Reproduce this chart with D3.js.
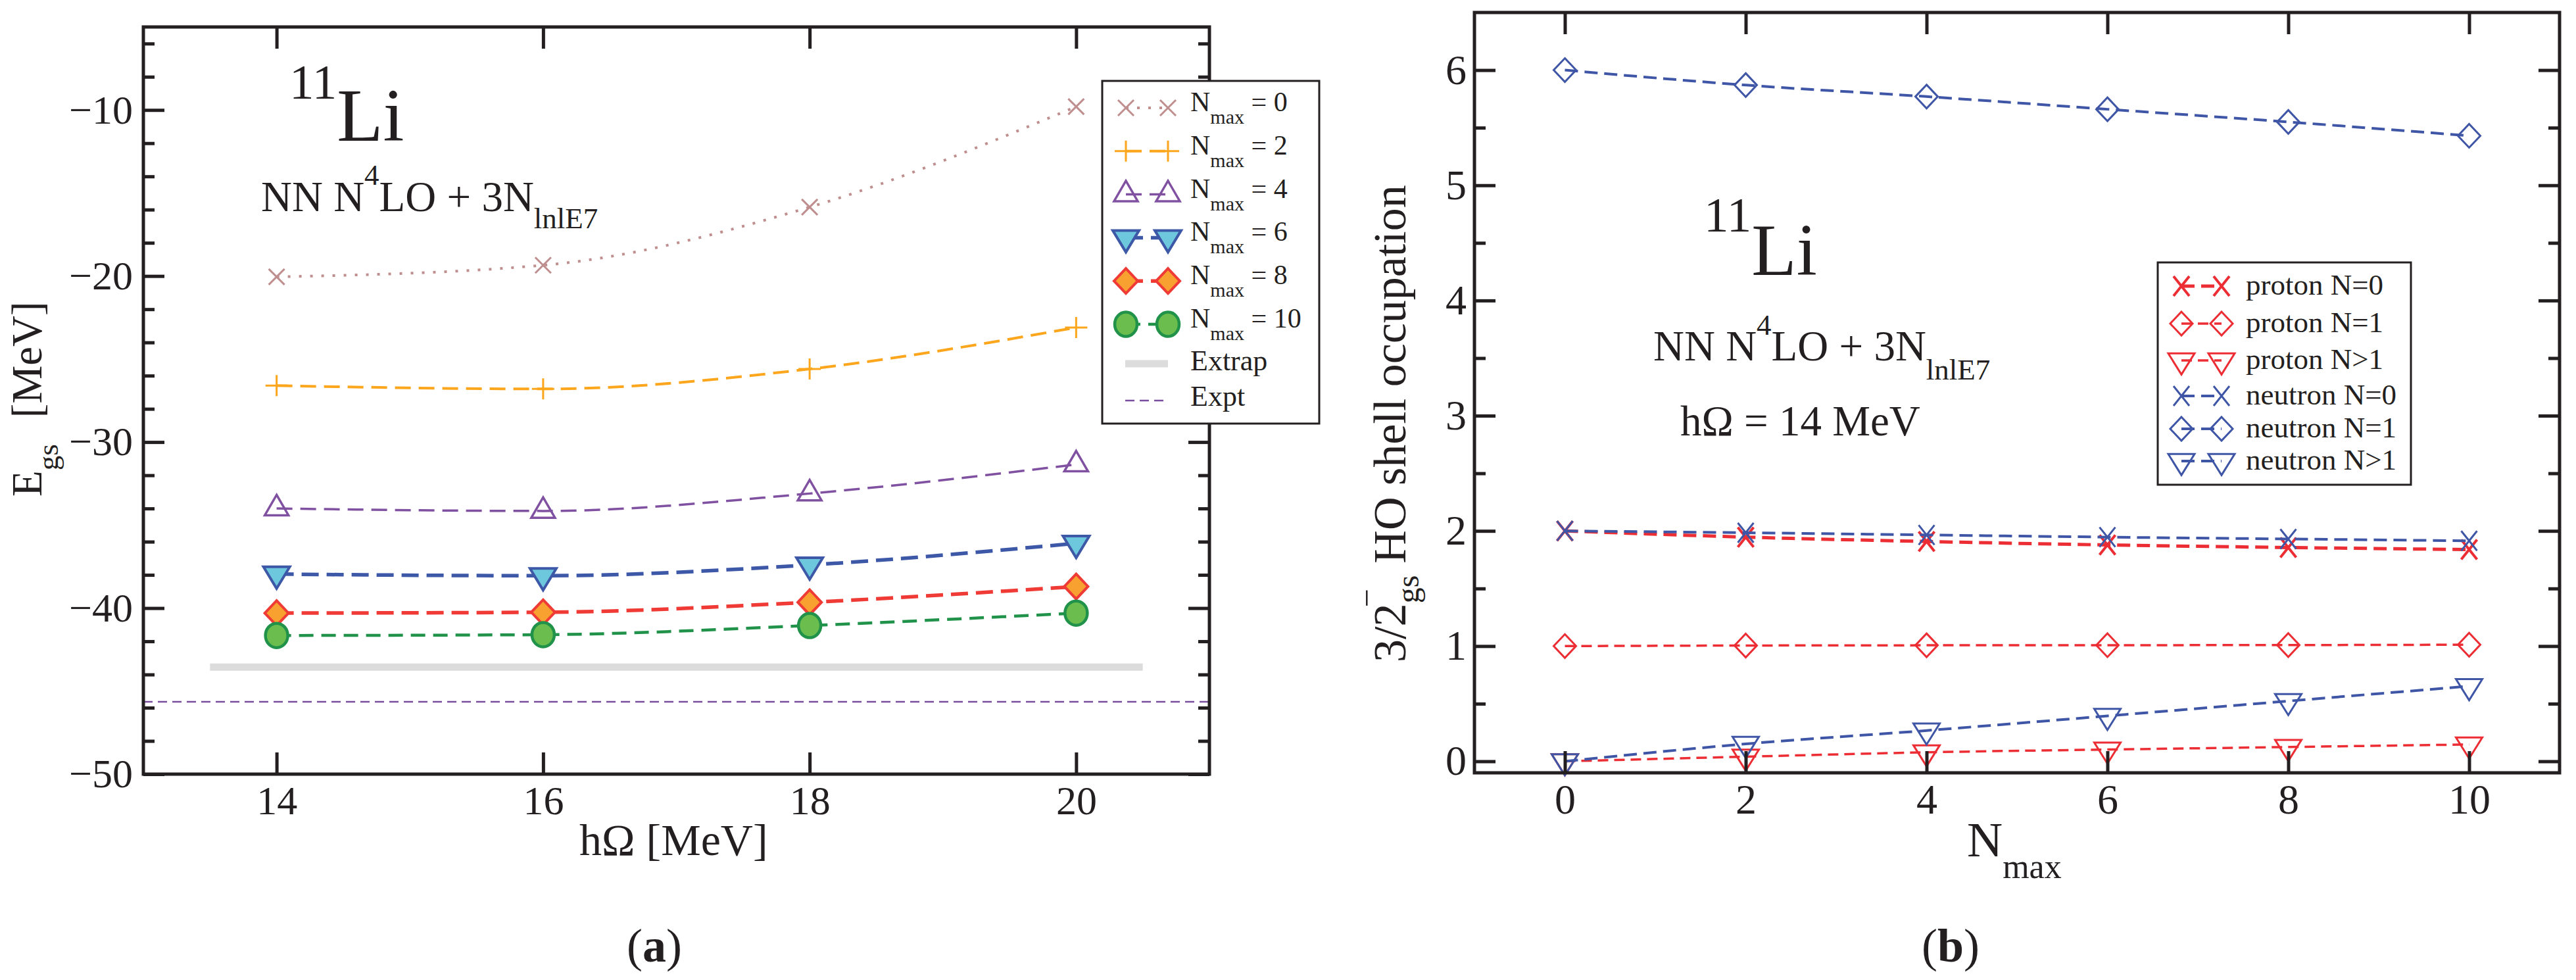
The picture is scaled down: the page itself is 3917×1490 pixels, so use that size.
<!DOCTYPE html>
<html>
<head>
<meta charset="utf-8">
<script src="https://cdn.jsdelivr.net/npm/d3@7.9.0/dist/d3.min.js"></script>
<style>
  body { margin: 0; background: #fff; }
  svg { display: block; font-family: "Liberation Serif", "DejaVu Serif", serif; }
  svg text { font-family: "Liberation Serif", "DejaVu Serif", serif; }
</style>
</head>
<body>
<svg id="fig" width="3917" height="1490"></svg>
<script>
// ---- data: panel (a), ground-state energy vs hOmega ----
const hOmega = [14, 16, 18, 20];
const eNmax0 = [-20.05, -19.35, -15.85, -9.8];
const eNmax2 = [-26.6, -26.8, -25.6, -23.1];
const eNmax4 = [-34.0, -34.15, -33.1, -31.35];
const eNmax6 = [-37.95, -38.05, -37.4, -36.1];
const eNmax8 = [-40.3, -40.25, -39.65, -38.7];
const eNmax10 = [-41.65, -41.6, -41.05, -40.3];
const extrapRange = [13.5, 20.5];
const eExtrap = -43.55;
const eExpt = -45.64;
const nmaxLegend = ['0', '2', '4', '6', '8', '10'];

// ---- data: panel (b), HO shell occupations vs Nmax ----
const nmaxValues = [0, 2, 4, 6, 8, 10];
const protonN0 = [2.0, 1.946, 1.908, 1.878, 1.856, 1.838];
const protonN1 = [1.0, 1.005, 1.007, 1.008, 1.009, 1.012];
const protonNgt1 = [0.0, 0.04, 0.078, 0.102, 0.124, 0.146];
const neutronN0 = [2.0, 1.984, 1.965, 1.946, 1.93, 1.914];
const neutronN1 = [6.0, 5.87, 5.77, 5.66, 5.55, 5.43];
const neutronNgt1 = [0.0, 0.151, 0.267, 0.394, 0.523, 0.652];
const shellLabels = ['proton N=0', 'proton N=1', 'proton N>1', 'neutron N=0', 'neutron N=1', 'neutron N>1'];

const svg = d3.select('#fig');
const INK = '#231f20';
const SERIF = '"Liberation Serif", "DejaVu Serif", serif';

// marker shapes, centred on the data point (triangles on their centroid)
function markerPath(shape, w, h) {
  const a = w / 2, b = h / 2;
  switch (shape) {
    case 'cross': return `M${-a},${-b}L${a},${b}M${-a},${b}L${a},${-b}`;
    case 'plus': return `M${-a},0H${a}M0,${-b}V${b}`;
    case 'triUp': return `M0,${-2 * h / 3}L${a},${h / 3}L${-a},${h / 3}Z`;
    case 'triDown': return `M0,${2 * h / 3}L${a},${-h / 3}L${-a},${-h / 3}Z`;
    case 'diamond': return `M0,${-b}L${a},0L0,${b}L${-a},0Z`;
    case 'circle': return `M${-a},0A${a},${b} 0 1,0 ${a},0A${a},${b} 0 1,0 ${-a},0Z`;
  }
}

function drawMarker(g, s, x, y) {
  g.append('path')
    .attr('d', markerPath(s.shape, s.mw, s.mh))
    .attr('transform', `translate(${x},${y})`)
    .attr('fill', s.fill)
    .attr('stroke', s.stroke)
    .attr('stroke-width', s.msw)
    .attr('stroke-linejoin', 'miter');
}

// frame with inward ticks on all four sides
function drawFrame(g, x, y, o) {
  const [x0, x1] = x.range();
  const [y0, y1] = y.range();   // y0 bottom, y1 top

  const style = sel => {
    sel.select('.domain').remove();
    sel.attr('font-family', SERIF).attr('font-size', o.labelSize);
    sel.selectAll('line').attr('stroke', INK).attr('stroke-width', 5);
    sel.selectAll('text').attr('fill', INK).attr('font-size', o.labelSize).attr('font-family', SERIF);
  };

  g.append('g').attr('transform', `translate(${x0},0)`)
    .call(d3.axisLeft(y).tickValues(o.yMajor).tickSize(-32).tickPadding(o.yPad).tickFormat(o.yFormat))
    .call(style);
  g.append('g').attr('transform', `translate(${x0},0)`)
    .call(d3.axisLeft(y).tickValues(o.yMinor).tickSize(-17).tickFormat(''))
    .call(style);
  g.append('g').attr('transform', `translate(${x1},0)`)
    .call(d3.axisRight(y).tickValues(o.yMajor).tickSize(-32).tickFormat(''))
    .call(style);
  g.append('g').attr('transform', `translate(${x1},0)`)
    .call(d3.axisRight(y).tickValues(o.yMinor).tickSize(-17).tickFormat(''))
    .call(style);
  g.append('g').attr('transform', `translate(0,${y0})`)
    .call(d3.axisBottom(x).tickValues(o.xMajor).tickSize(-33).tickPadding(17).tickFormat(d3.format('d')))
    .call(style);
  g.append('g').attr('transform', `translate(0,${y1})`)
    .call(d3.axisTop(x).tickValues(o.xMajor).tickSize(-33).tickFormat(''))
    .call(style);

  g.append('rect')
    .attr('x', x0).attr('y', y1)
    .attr('width', x1 - x0).attr('height', y0 - y1)
    .attr('fill', 'none').attr('stroke', INK).attr('stroke-width', 5);
}

function drawSeries(g, s, xs, x, y) {
  const pts = xs.map((d, i) => [d, s.values[i]]);
  const line = d3.line().x(d => x(d[0])).y(d => y(d[1])).curve(d3.curveMonotoneX);
  g.append('path')
    .attr('d', line(pts))
    .attr('fill', 'none')
    .attr('stroke', s.stroke)
    .attr('stroke-width', s.lw)
    .attr('stroke-dasharray', s.dash);
  pts.forEach(p => drawMarker(g, s, x(p[0]), y(p[1])));
}

function legendLine(g, s, xa, xb, yy) {
  g.append('line')
    .attr('x1', xa).attr('x2', xb).attr('y1', yy).attr('y2', yy)
    .attr('stroke', s.stroke).attr('stroke-width', s.lw)
    .attr('stroke-dasharray', s.dash);
  drawMarker(g, s, xa, yy);
  drawMarker(g, s, xb, yy);
}

// ================= Panel (a) =================
function renderPanelA() {
  const g = svg.append('g');
  const x = d3.scaleLinear().domain([13, 21]).range([218, 1839]);
  const y = d3.scaleLinear().domain([-50, -5]).range([1177, 41]);

  const series = [
    { values: eNmax0, shape: 'cross', stroke: '#bf8f8f', fill: 'none', lw: 4, dash: '4,13', mw: 24, mh: 24, msw: 3 },
    { values: eNmax2, shape: 'plus', stroke: '#fba61c', fill: 'none', lw: 4, dash: '24,12', mw: 34, mh: 32, msw: 3 },
    { values: eNmax4, shape: 'triUp', stroke: '#8151a1', fill: 'none', lw: 3.5, dash: '24,12', mw: 36, mh: 31, msw: 3.5 },
    { values: eNmax6, shape: 'triDown', stroke: '#3e58a8', fill: '#6ec8dd', lw: 5.5, dash: '26,12', mw: 40, mh: 33, msw: 4 },
    { values: eNmax8, shape: 'diamond', stroke: '#ef3a35', fill: '#f8a131', lw: 5.5, dash: '26,12', mw: 36, mh: 38, msw: 4 },
    { values: eNmax10, shape: 'circle', stroke: '#21924a', fill: '#6bbd4e', lw: 4.5, dash: '22,12', mw: 34, mh: 37, msw: 4.5 },
  ];

  // extrapolated band and experiment
  g.append('line')
    .attr('x1', x(extrapRange[0])).attr('x2', x(extrapRange[1]))
    .attr('y1', y(eExtrap)).attr('y2', y(eExtrap))
    .attr('stroke', '#dcdcdc').attr('stroke-width', 11);
  g.append('line')
    .attr('x1', x(13)).attr('x2', x(21))
    .attr('y1', y(eExpt)).attr('y2', y(eExpt))
    .attr('stroke', '#7a4e9e').attr('stroke-width', 2.5).attr('stroke-dasharray', '14,8');

  series.forEach(s => drawSeries(g, s, hOmega, x, y));

  drawFrame(g, x, y, {
    yMajor: d3.range(-50, -9, 10),
    yMinor: d3.range(-48, -5, 2).filter(v => v % 10 !== 0),
    xMajor: hOmega,
    yFormat: d3.format('d'),
    yPad: 16,
    labelSize: 62,
  });

  // axis titles
  g.append('text').attr('x', 881).attr('y', 1300).attr('font-size', 68).attr('fill', INK)
    .text('hΩ  [MeV]');
  const yt = g.append('text').attr('transform', 'translate(63,755) rotate(-90)')
    .attr('font-size', 65).attr('fill', INK);
  yt.append('tspan').text('E');
  yt.append('tspan').attr('font-size', 45).attr('dy', 25).text('gs');
  yt.append('tspan').attr('dy', -25).attr('dx', 40).text('[MeV]');

  // annotations
  const nuc = g.append('text').attr('x', 440).attr('y', 150).attr('fill', INK);
  nuc.append('tspan').attr('font-size', 75).text('11');
  nuc.append('tspan').attr('font-size', 115).attr('dy', 64).text('Li');

  const inter = g.append('text').attr('x', 397).attr('y', 321).attr('fill', INK).attr('font-size', 65);
  inter.append('tspan').text('NN N');
  inter.append('tspan').attr('font-size', 45).attr('dy', -40).text('4');
  inter.append('tspan').attr('dy', 40).text('LO + 3N');
  inter.append('tspan').attr('font-size', 45).attr('dy', 26).text('lnlE7');

  g.append('text').attr('x', 995).attr('y', 1462).attr('text-anchor', 'middle')
    .attr('font-size', 72).attr('fill', INK)
    .call(t => {
      t.append('tspan').text('(');
      t.append('tspan').attr('font-weight', 'bold').text('a');
      t.append('tspan').text(')');
    });

  // legend
  const lg = g.append('g');
  lg.append('rect').attr('x', 1676).attr('y', 123).attr('width', 330).attr('height', 521)
    .attr('fill', '#fff').attr('stroke', INK).attr('stroke-width', 3);
  series.forEach((s, i) => {
    const yy = 164 + i * 65.8;
    legendLine(lg, s, 1712, 1776, yy);
    const t = lg.append('text').attr('x', 1810).attr('y', yy + 5).attr('font-size', 42).attr('fill', INK);
    t.append('tspan').text('N');
    t.append('tspan').attr('font-size', 30).attr('dy', 19).text('max');
    t.append('tspan').attr('dy', -19).text(' = ' + nmaxLegend[i]);
  });
  lg.append('line').attr('x1', 1711).attr('x2', 1776).attr('y1', 553).attr('y2', 553)
    .attr('stroke', '#dcdcdc').attr('stroke-width', 11);
  lg.append('text').attr('x', 1810).attr('y', 563).attr('font-size', 44).attr('fill', INK).text('Extrap');
  lg.append('line').attr('x1', 1711).attr('x2', 1776).attr('y1', 609).attr('y2', 609)
    .attr('stroke', '#7a4e9e').attr('stroke-width', 2.5).attr('stroke-dasharray', '14,8');
  lg.append('text').attr('x', 1810).attr('y', 617).attr('font-size', 44).attr('fill', INK).text('Expt');
}

// ================= Panel (b) =================
function renderPanelB() {
  const g = svg.append('g');
  const x = d3.scaleLinear().domain([-1, 11]).range([2242, 3892]);
  const y = d3.scaleLinear().domain([-0.1, 6.5]).range([1175, 19]);

  const red = '#ec2d34', blue = '#3f56a6';
  const series = [
    { values: protonN0, shape: 'cross', stroke: red, fill: 'none', lw: 5, dash: '20,10', mw: 24, mh: 30, msw: 4 },
    { values: protonN1, shape: 'diamond', stroke: red, fill: 'none', lw: 3.5, dash: '16,9', mw: 34, mh: 36, msw: 3 },
    { values: protonNgt1, shape: 'triDown', stroke: red, fill: 'none', lw: 3.5, dash: '16,9', mw: 40, mh: 32, msw: 3 },
    { values: neutronN0, shape: 'cross', stroke: blue, fill: 'none', lw: 4, dash: '20,10', mw: 24, mh: 30, msw: 3 },
    { values: neutronN1, shape: 'diamond', stroke: blue, fill: 'none', lw: 4, dash: '20,10', mw: 34, mh: 36, msw: 3 },
    { values: neutronNgt1, shape: 'triDown', stroke: blue, fill: 'none', lw: 4, dash: '20,10', mw: 40, mh: 32, msw: 3 },
  ];

  series.forEach(s => drawSeries(g, s, nmaxValues, x, y));

  drawFrame(g, x, y, {
    yMajor: d3.range(0, 7, 1),
    yMinor: d3.range(0.5, 6.5, 1),
    xMajor: nmaxValues,
    yFormat: d3.format('d'),
    yPad: 12,
    labelSize: 64,
  });

  // axis titles
  const xt = g.append('text').attr('x', 2991).attr('y', 1302).attr('fill', INK).attr('font-size', 75);
  xt.append('tspan').text('N');
  xt.append('tspan').attr('font-size', 52).attr('dy', 33).text('max');

  const yt = g.append('text').attr('transform', 'translate(2137,1007) rotate(-90)')
    .attr('font-size', 70).attr('fill', INK);
  yt.append('tspan').text('3/2');
  yt.append('tspan').attr('font-size', 50).attr('dx', -6).attr('dy', -42).text('−');
  yt.append('tspan').attr('font-size', 48).attr('dx', -22).attr('dy', 62).text('gs');
  yt.append('tspan').attr('dx', 18).attr('dy', -20).text('HO shell occupation');

  // annotations
  const nuc = g.append('text').attr('x', 2591).attr('y', 352).attr('fill', INK);
  nuc.append('tspan').attr('font-size', 75).text('11');
  nuc.append('tspan').attr('font-size', 112).attr('dy', 66).text('Li');

  const inter = g.append('text').attr('x', 2514).attr('y', 548).attr('fill', INK).attr('font-size', 65);
  inter.append('tspan').text('NN N');
  inter.append('tspan').attr('font-size', 45).attr('dy', -39).text('4');
  inter.append('tspan').attr('dy', 39).text('LO + 3N');
  inter.append('tspan').attr('font-size', 45).attr('dy', 29).text('lnlE7');

  g.append('text').attr('x', 2555).attr('y', 662).attr('font-size', 65).attr('fill', INK)
    .text('hΩ = 14 MeV');

  g.append('text').attr('x', 2966).attr('y', 1462).attr('text-anchor', 'middle')
    .attr('font-size', 72).attr('fill', INK)
    .call(t => {
      t.append('tspan').text('(');
      t.append('tspan').attr('font-weight', 'bold').text('b');
      t.append('tspan').text(')');
    });

  // legend
  const lg = g.append('g');
  lg.append('rect').attr('x', 3281).attr('y', 399).attr('width', 385).attr('height', 338)
    .attr('fill', '#fff').attr('stroke', INK).attr('stroke-width', 3);
  const rows = [448, 505, 561, 615, 665, 714];
  series.forEach((s, i) => {
    legendLine(lg, s, 3317, 3378, rows[i] - 13);
    lg.append('text').attr('x', 3415).attr('y', rows[i]).attr('font-size', 45).attr('fill', INK)
      .text(shellLabels[i]);
  });
}

renderPanelA();
renderPanelB();
</script>
</body>
</html>
